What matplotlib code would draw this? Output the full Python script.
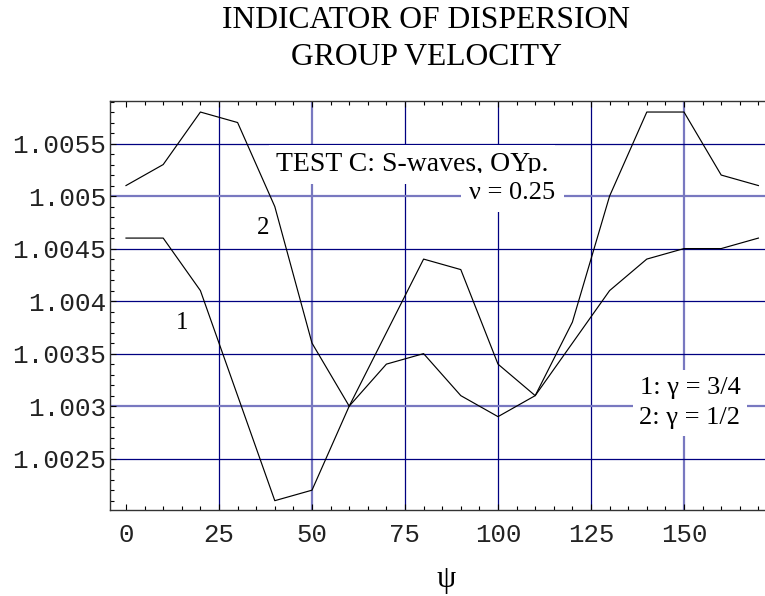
import matplotlib
matplotlib.use('Agg')
import matplotlib.pyplot as plt
from matplotlib.ticker import FixedLocator, MultipleLocator

# ---------------- data ----------------
psi = [0, 10, 20, 30, 40, 50, 60, 70, 80, 90, 100, 110, 120, 130, 140, 150, 160, 170]
curve1 = [1.0046, 1.0046, 1.0041, 1.0031, 1.0021, 1.0022, 1.0030, 1.0034, 1.0035,
          1.0031, 1.0029, 1.0031, 1.0036, 1.0041, 1.0044, 1.0045, 1.0045, 1.0046]
curve2 = [1.0051, 1.0053, 1.0058, 1.0057, 1.0049, 1.0036, 1.0030, 1.0037, 1.0044,
          1.0043, 1.0034, 1.0031, 1.0038, 1.0050, 1.0058, 1.0058, 1.0052, 1.0051]

x_ticks = [0, 25, 50, 75, 100, 125, 150]
x_tick_labels = ["0", "25", "50", "75", "100", "125", "150"]
y_ticks = [1.0025, 1.003, 1.0035, 1.004, 1.0045, 1.005, 1.0055]
y_tick_labels = ["1.0025", "1.003", "1.0035", "1.004", "1.0045", "1.005", "1.0055"]
x_grid = [25, 50, 75, 100, 125, 150]
y_grid = [1.0025, 1.003, 1.0035, 1.004, 1.0045, 1.005, 1.0055]
x_grid_light = [50, 150]
y_grid_light = [1.003, 1.005]

title_lines = ["INDICATOR OF DISPERSION", "GROUP VELOCITY"]
x_label = "ψ"
test_label = "TEST C: S-waves, OYp."
nu_label = "ν = 0.25"
legend_label = "1: γ = 3/4\n2: γ = 1/2"

# ---------------- figure ----------------
W, H = 765, 596
fig = plt.figure(figsize=(W / 100, H / 100), dpi=100)

x0, x1 = -4.3, 174.0
y0, y1 = 1.002016, 1.005905
px_per_x = 3.72
left_px, bottom_px, top_px = 110, 509.5, 101
width_px = (x1 - x0) * px_per_x
ax = fig.add_axes([left_px / W, 1 - bottom_px / H, width_px / W, (bottom_px - top_px) / H])
ax.set_xlim(x0, x1)
ax.set_ylim(y0, y1)

serif = "Liberation Serif"
mono = "Liberation Mono"

dark = "#000080"
light = "#7878c0"
for gx in x_grid:
    if gx in x_grid_light:
        ax.axvline(gx, color=light, lw=1.6, zorder=1)
    else:
        ax.axvline(gx, color=dark, lw=0.9, zorder=1)
for gy in y_grid:
    if gy in y_grid_light:
        ax.axhline(gy, color=light, lw=1.6, zorder=1)
    else:
        ax.axhline(gy, color=dark, lw=0.9, zorder=1)

ax.plot(psi, curve1, color="black", lw=0.85, zorder=5)
ax.plot(psi, curve2, color="black", lw=0.85, zorder=5)

ax.xaxis.set_major_locator(FixedLocator(x_ticks))
ax.set_xticklabels(x_tick_labels, fontfamily=mono, fontsize=18.5, color="#222222")
ax.yaxis.set_major_locator(FixedLocator(y_ticks))
ax.set_yticklabels(y_tick_labels, fontfamily=mono, fontsize=18.8, color="#222222")
ax.xaxis.set_minor_locator(MultipleLocator(5))
ax.yaxis.set_minor_locator(MultipleLocator(0.0001))
ax.tick_params(which="both", direction="in", top=True, right=True, color="black", width=0.8)
ax.tick_params(which="major", length=4.5)
ax.tick_params(which="minor", length=3)
ax.tick_params(axis="x", which="major", pad=10)
ax.tick_params(axis="y", which="major", pad=3)
for s in ax.spines.values():
    s.set_linewidth(1.0)
    s.set_color("#333333")

ax.text(76.9, 1.005300, test_label, fontfamily=serif, fontsize=20,
        ha="center", va="center", bbox=dict(facecolor="white", edgecolor="none", pad=5), zorder=3)
ax.text(103.8, 1.00503, nu_label, fontfamily=serif, fontsize=19,
        ha="center", va="center", bbox=dict(facecolor="white", edgecolor="none", pad=6), zorder=3)
ax.text(151.6, 1.00303, legend_label, fontfamily=serif, fontsize=19,
        ha="center", va="center", linespacing=1.5,
        bbox=dict(facecolor="white", edgecolor="none", pad=5), zorder=3)
ax.text(15.0, 1.00379, "1", fontfamily=serif, fontsize=18, ha="center", va="center", zorder=4)
ax.text(36.8, 1.0047, "2", fontfamily=serif, fontsize=18, ha="center", va="center", zorder=4)

fig.text(426 / W, 1 - 28 / H, title_lines[0], fontfamily=serif, fontsize=22.8,
         ha="center", va="baseline")
fig.text(426 / W, 1 - 65 / H, title_lines[1], fontfamily=serif, fontsize=22.8,
         ha="center", va="baseline")
fig.text(446 / W, 1 - 580 / H, x_label, fontfamily=serif, fontsize=22,
         ha="center", va="center")

fig.savefig("out.png", dpi=100)
